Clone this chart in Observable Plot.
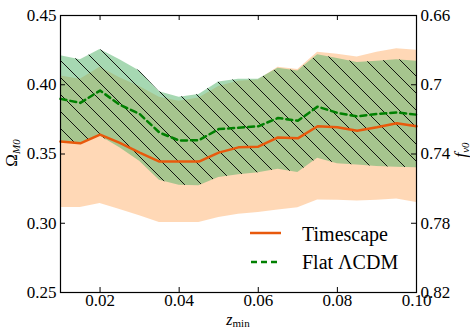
<!DOCTYPE html>
<html><head><meta charset="utf-8">
<script src="https://cdn.jsdelivr.net/npm/d3@7"></script>
<script src="https://cdn.jsdelivr.net/npm/@observablehq/plot@0.6"></script>
<style>body{margin:0;background:#fff}</style>
</head><body><div id="chart"></div>
<script>
// ---- data ----
const zmin = [0.010,0.015,0.020,0.025,0.030,0.035,0.040,0.045,0.050,0.055,0.060,0.065,0.070,0.075,0.080,0.085,0.090,0.095,0.100];
const timescape   = [0.359,0.3577,0.364,0.358,0.351,0.3445,0.3445,0.3445,0.351,0.3548,0.3553,0.362,0.3613,0.370,0.3693,0.3668,0.3693,0.3722,0.370];
const timescapeLo = [0.3114,0.3114,0.3143,0.310,0.3054,0.3006,0.3006,0.3006,0.3042,0.3065,0.3078,0.3095,0.3112,0.3167,0.3166,0.316,0.3166,0.3175,0.315];
const timescapeHi = [0.4064,0.404,0.4126,0.405,0.3987,0.391,0.388,0.3905,0.3987,0.4025,0.4035,0.4126,0.411,0.4235,0.422,0.420,0.4235,0.426,0.425];
const lcdm   = [0.3898,0.3869,0.3958,0.3855,0.3789,0.3655,0.3597,0.360,0.368,0.369,0.370,0.376,0.374,0.3842,0.3797,0.3772,0.3789,0.380,0.3784];
const lcdmLo = [0.359,0.358,0.363,0.3545,0.3448,0.331,0.3275,0.327,0.333,0.335,0.3365,0.339,0.3367,0.347,0.343,0.342,0.341,0.3405,0.340];
const lcdmHi = [0.421,0.418,0.4255,0.418,0.410,0.395,0.391,0.393,0.402,0.404,0.404,0.412,0.410,0.4216,0.419,0.416,0.417,0.418,0.417];
const xTicks = [0.02,0.04,0.06,0.08,0.10];
const yTicks = [0.25,0.30,0.35,0.40,0.45];
const fTicks = [0.66,0.70,0.74,0.78,0.82];
const fTickLabels = ["0.66","0.7","0.74","0.78","0.82"];
const seriesNames = ["Timescape","Flat ΛCDM"];

const rows = zmin.map((z,i)=>({z, ts:timescape[i], tsLo:timescapeLo[i], tsHi:timescapeHi[i], lc:lcdm[i], lcLo:lcdmLo[i], lcHi:lcdmHi[i]}));

const W=470,H=329,mL=60,mR=54,mT=15,mB=37;
const fw=W-mL-mR, fh=H-mT-mB;
const toOmega = f => 0.45 - (f-0.66)*1.25;
const orange="#e8590c", green="#008000";
const serif='"Liberation Serif", "DejaVu Serif", serif';

const svg = Plot.plot({
  width:W,height:H,marginLeft:mL,marginRight:mR,marginTop:mT,marginBottom:mB,
  x:{domain:[0.01,0.10]}, y:{domain:[0.25,0.45]},
  style:{fontFamily:serif,fontSize:"17px",background:"white",color:"black"},
  marks:[
    Plot.areaY(rows,{x:"z",y1:"tsLo",y2:"tsHi",fill:"#ff7f0e",fillOpacity:0.3}),
    Plot.areaY(rows,{x:"z",y1:"lcLo",y2:"lcHi",fill:"#4db165",fillOpacity:0.5}),
    Plot.areaY(rows,{x:"z",y1:"lcLo",y2:"lcHi",fill:"url(#hatch)"}),
    Plot.line(rows,{x:"z",y:"ts",stroke:orange,strokeWidth:2.5}),
    Plot.line(rows,{x:"z",y:"lc",stroke:green,strokeWidth:2.5,strokeDasharray:"6,4"}),
    Plot.frame({stroke:"black",strokeWidth:1.2}),
    Plot.tickY(yTicks,{y:d=>d,insetRight:fw-5,stroke:"black"}),
    Plot.tickY(yTicks,{y:d=>d,insetLeft:fw-5,stroke:"black"}),
    Plot.tickX(xTicks,{x:d=>d,insetTop:fh-5,stroke:"black"}),
    Plot.tickX(xTicks,{x:d=>d,insetBottom:fh-5,stroke:"black"}),
    Plot.axisY({ticks:yTicks,tickSize:0,tickPadding:4,tickFormat:d3.format(".2f"),label:null}),
    Plot.axisX({ticks:xTicks,tickSize:0,tickPadding:1,tickFormat:d3.format(".2f"),label:null}),
    Plot.text(fTicks,{y:toOmega,text:(d,i)=>fTickLabels[i],frameAnchor:"right",textAnchor:"start",dx:4})
  ]
});

const S=d3.select(svg);
const s=17;
S.insert("defs",":first-child").append("pattern").attr("id","hatch")
  .attr("patternUnits","userSpaceOnUse").attr("width",s).attr("height",s)
  .append("path").attr("d",`M0,0L${s},${s}M${-s/4},${3*s/4}L${s/4},${5*s/4}M${3*s/4},${-s/4}L${5*s/4},${s/4}`)
  .attr("stroke","black").attr("stroke-width",0.9).attr("fill","none");

// legend
const lg=S.append("g").attr("font-family",serif).attr("font-size",20).attr("text-anchor","start");
lg.append("line").attr("x1",250).attr("x2",281).attr("y1",233).attr("y2",233).attr("stroke",orange).attr("stroke-width",2.5);
lg.append("text").attr("x",302).attr("y",241).attr("text-anchor","start").text(seriesNames[0]);
lg.append("line").attr("x1",251).attr("x2",281).attr("y1",262).attr("y2",262).attr("stroke",green).attr("stroke-width",2.5).attr("stroke-dasharray","6,4");
lg.append("text").attr("x",302).attr("y",268.5).attr("text-anchor","start").text(seriesNames[1]);

// axis labels
const yl=S.append("text").attr("transform","translate(17,153) rotate(-90)").attr("text-anchor","middle").attr("font-family",serif).attr("font-size",17);
yl.append("tspan").text("Ω");
yl.append("tspan").attr("font-size",11).attr("font-style","italic").attr("dy",3).text("M0");
const xl=S.append("text").attr("x",238).attr("y",325).attr("text-anchor","middle").attr("font-family",serif).attr("font-size",16);
xl.append("tspan").attr("font-style","italic").text("z");
xl.append("tspan").attr("font-size",11).attr("dy",2).text("min");
const rl=S.append("text").attr("transform","translate(466,150) rotate(-90)").attr("text-anchor","middle").attr("font-family",serif).attr("font-size",17);
rl.append("tspan").attr("font-style","italic").text("f");
rl.append("tspan").attr("font-size",11).attr("font-style","italic").attr("dy",3).text("v0");

document.getElementById("chart").appendChild(svg);
</script>
</body></html>
